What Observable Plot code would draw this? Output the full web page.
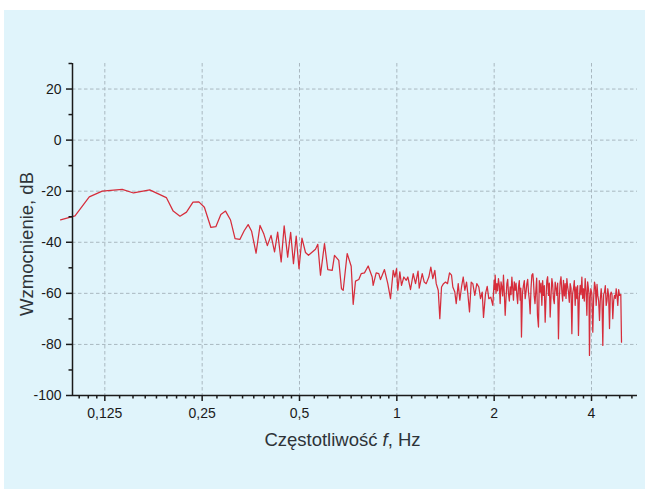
<!DOCTYPE html>
<html>
<head>
<meta charset="utf-8">
<script src="https://cdn.jsdelivr.net/npm/d3@7"></script>
<script src="https://cdn.jsdelivr.net/npm/@observablehq/plot@0.6"></script>
<style>
  html, body { margin: 0; padding: 0; background: #ffffff; }
  #chart { position: absolute; left: 4px; top: 10px; width: 641px; height: 479px; background: #e0f4fb; }
  #chart svg { display: block; background: transparent; }
</style>
</head>
<body>
<div id="chart"></div>
<script>
// ---- data ----
const freq = [0.0912,0.1011,0.1119,0.1227,0.1415,0.1533,0.1721,0.1937,0.2034,0.2135,0.2236,0.2342,0.2442,0.2540,0.2660,0.2756,0.2856,0.2953,0.3060,0.3160,0.3270,0.3372,0.3469,0.3556,0.3670,0.3775,0.3879,0.3977,0.4083,0.4186,0.4280,0.4388,0.4483,0.4596,0.4695,0.4790,0.4884,0.4982,0.5089,0.5218,0.5331,0.5466,0.5603,0.5696,0.5806,0.5974,0.6116,0.6311,0.6415,0.6614,0.6743,0.6825,0.7022,0.7225,0.7328,0.7450,0.7627,0.7758,0.7942,0.8154,0.8390,0.8449,0.8632,0.8794,0.8901,0.9157,0.9377,0.9559,0.9747,0.9859,0.9979,1.0071,1.0216,1.0340,1.0511,1.0692,1.0815,1.1024,1.1238,1.1424,1.1630,1.1729,1.1982,1.2154,1.2328,1.2558,1.2738,1.2921,1.3106,1.3238,1.3428,1.3582,1.3747,1.3944,1.4145,1.4347,1.4553,1.4762,1.4899,1.5113,1.5264,1.5483,1.5661,1.5852,1.6045,1.6229,1.6427,1.6579,1.6779,1.6984,1.7178,1.7424,1.7674,1.7927,1.8146,1.8366,1.8537,1.8803,1.9032,1.9250,1.9527,1.9807,2.0000,2.0143,2.0388,2.0620,2.0872,2.1126,2.1368,2.1630,2.1894,2.2144,2.2414,2.2687,2.2947,2.3226,2.3509,2.3778,2.4068,2.4291,2.4640,2.4939,2.5244,2.5532,2.5843,2.6158,2.6345,2.6591,2.6914,2.7223,2.7418,2.7751,2.8089,2.8410,2.8757,2.9106,2.9440,2.9798,3.0162,3.0507,3.0879,3.1256,3.1613,3.1999,3.2388,3.2760,3.3158,3.3562,3.3946,3.4361,3.4780,3.5178,3.5605,3.6040,3.6452,3.6897,3.7347,3.7774,3.8235,3.8700,3.9145,3.9423,3.9814,4.0370,4.0862,4.1360,4.1833,4.2344,4.2858,4.3350,4.3877,4.4412,4.4920,4.5468,4.6022,4.6548,4.7116,4.7689,4.8236,4.8822,4.9277,4.9524];
const gain = [-31.2,-29.7,-22.2,-20.0,-19.3,-20.7,-19.5,-22.5,-27.8,-29.8,-28.2,-24.3,-24.2,-26.3,-34.2,-33.9,-29.1,-27.8,-31.3,-38.6,-38.9,-35.5,-33.1,-35.7,-44.3,-33.4,-36.8,-41.3,-37.3,-43.8,-36.0,-47.7,-33.6,-45.8,-36.1,-48.4,-37.6,-50.3,-38.4,-44.0,-45.1,-43.9,-42.7,-40.8,-52.9,-40.5,-50.7,-51.0,-45.1,-47.1,-58.2,-58.8,-44.4,-49.4,-64.3,-55.2,-54.6,-52.3,-52.0,-49.3,-53.6,-56.9,-52.0,-52.3,-54.6,-50.7,-56.2,-62.1,-51.0,-53.6,-50.3,-58.8,-51.6,-56.9,-53.6,-54.9,-53.6,-58.5,-52.3,-56.2,-51.3,-58.0,-52.3,-55.6,-56.2,-53.6,-49.7,-54.2,-51.0,-56.2,-58.8,-69.9,-57.5,-56.2,-55.6,-56.2,-52.0,-52.9,-57.5,-59.5,-64.0,-56.2,-62.7,-57.5,-53.6,-58.8,-55.6,-60.1,-67.3,-55.6,-56.2,-60.8,-56.2,-57.5,-62.1,-59.5,-69.4,-60.1,-57.3,-62.1,-61.5,-64.7,-54.9,-52.9,-56.2,-54.2,-64.0,-57.5,-52.9,-68.6,-56.2,-60.1,-57.5,-53.6,-62.7,-58.8,-60.8,-57.5,-62.7,-77.1,-56.9,-62.1,-56.2,-59.5,-68.0,-52.9,-52.3,-60.8,-58.8,-68.6,-73.2,-59.5,-64.7,-60.8,-71.3,-54.9,-60.8,-69.3,-54.2,-62.1,-55.6,-60.8,-77.8,-55.6,-59.5,-54.9,-56.2,-54.2,-59.5,-56.2,-75.8,-58.2,-64.7,-62.1,-76.5,-56.9,-53.6,-58.2,-54.2,-68.6,-58.2,-84.3,-58.2,-75.2,-55.6,-64.7,-60.8,-70.6,-58.2,-80.4,-59.5,-64.7,-58.2,-73.8,-59.5,-69.9,-60.8,-58.2,-64.7,-60.8,-60.4,-79.1];
// extra samples read in the dense band above 2 Hz
const freqDense = [2.007,2.026,2.050,2.075,2.100,2.125,2.150,2.176,2.202,2.228,2.255,2.282,2.308,2.337,2.364,2.392,2.418,2.446,2.479,2.509,2.539,2.569,2.600,2.647,2.675,2.707,2.758,2.792,2.825,2.858,2.893,2.927,2.962,2.998,3.033,3.069,3.107,3.143,3.180,3.219,3.257,3.296,3.336,3.375,3.415,3.457,3.498,3.539,3.582,3.624,3.667,3.712,3.756,3.800,3.847,3.892,3.928,3.962,4.009,4.061,4.111,4.160,4.209,4.260,4.310,4.361,4.414,4.466,4.519,4.574,4.628,4.683,4.740,4.796,4.853];
const gainDense = [-58.5,-60.0,-59.0,-57.0,-55.5,-61.0,-60.0,-62.0,-54.5,-63.0,-60.5,-58.0,-55.5,-56.0,-64.0,-55.0,-58.0,-60.0,-55.0,-59.5,-54.5,-62.5,-58.0,-55.5,-64.0,-54.0,-55.0,-56.0,-55.0,-57.0,-62.0,-53.5,-56.0,-61.0,-56.5,-64.0,-58.0,-56.0,-62.0,-53.5,-63.0,-61.0,-62.0,-57.5,-63.5,-58.0,-60.0,-55.0,-57.5,-57.0,-62.0,-60.5,-62.0,-63.0,-59.0,-55.5,-60.0,-62.0,-60.0,-62.0,-57.5,-56.5,-63.0,-62.0,-63.0,-60.5,-57.0,-63.0,-61.0,-60.5,-60.5,-63.0,-62.0,-61.0,-58.5];

const xTicks = [0.125, 0.25, 0.5, 1, 2, 4];
const xTickLabels = ["0,125", "0,25", "0,5", "1", "2", "4"];
const yTicks = [-100, -80, -60, -40, -20, 0, 20];
const yTickLabels = ["-100", "-80", "-60", "-40", "-20", "0", "20"];
const yMinorTicks = [-90, -70, -50, -30, -10, 10, 30];
const xDomain = [0.0993, 5.55];
const yDomain = [-100, 30];
const xTitle = "Częstotliwość f, Hz";
const yTitle = "Wzmocnienie, dB";

// ---- build ----
const data = [];
for (let i = 0; i < Math.min(freq.length, gain.length); i++) data.push({f: freq[i], g: gain[i]});
for (let i = 0; i < Math.min(freqDense.length, gainDense.length); i++) data.push({f: freqDense[i], g: gainDense[i]});
data.sort((a, b) => a.f - b.f);

// minor x ticks: 8 linear subdivisions per octave
const octaveStarts = [0.0625, 0.125, 0.25, 0.5, 1, 2, 4];
const xMinorTicks = [];
for (const m of octaveStarts) for (let k = 1; k <= 8; k++) {
  const v = m + k * m / 9;
  if (v >= xDomain[0] && v <= xDomain[1]) xMinorTicks.push(v);
}
const xLab = new Map(xTicks.map((t, i) => [t, xTickLabels[i]]));
const yLab = new Map(yTicks.map((t, i) => [t, yTickLabels[i]]));

const gridStyle = {stroke: "#a9b8c0", strokeOpacity: 1, strokeWidth: 1, strokeDasharray: "3.5,2.5"};
const axisColor = "#1a1a1a";

const chart = Plot.plot({
  width: 641,
  height: 479,
  marginLeft: 68,
  marginRight: 8,
  marginTop: 53,
  marginBottom: 94,
  style: {fontFamily: "'Liberation Sans', Arial, sans-serif", background: "transparent", color: axisColor, overflow: "visible"},
  x: {type: "log", domain: xDomain},
  y: {domain: yDomain},
  marks: [
    Plot.ruleX(xTicks, gridStyle),
    Plot.ruleY(yTicks.filter(t => t > yDomain[0]), gridStyle),
    Plot.line(data, {x: "f", y: "g", stroke: "#d62d3b", strokeWidth: 1.25, strokeLinejoin: "round"}),
    Plot.ruleY([yDomain[0]], {stroke: axisColor, strokeWidth: 1.5}),
    Plot.ruleX([xDomain[0]], {stroke: axisColor, strokeWidth: 1.5}),
    Plot.axisX(xTicks, {tickSize: 6, tickPadding: 7, tickFormat: d => xLab.get(d), fontSize: 14, stroke: axisColor, strokeWidth: 1.5, fill: axisColor, label: null}),
    Plot.axisX(xMinorTicks, {tickSize: 3.5, tickFormat: () => "", stroke: axisColor, strokeWidth: 1.5, label: null}),
    Plot.axisY(yTicks, {tickSize: 6, tickPadding: 5, tickFormat: d => yLab.get(d), fontSize: 14, stroke: axisColor, strokeWidth: 1.5, fill: axisColor, label: null}),
    Plot.axisY(yMinorTicks, {tickSize: 3.5, tickFormat: () => "", stroke: axisColor, strokeWidth: 1.5, label: null}),
    Plot.text([xTitle], {frameAnchor: "bottom", dy: 45, dx: -12.5, lineAnchor: "middle", textAnchor: "middle", fontSize: 18.5, fill: "#2e3338", className: "xtitle"}),
    Plot.text([yTitle], {frameAnchor: "left", rotate: -90, dx: -45, dy: 14.5, lineAnchor: "middle", textAnchor: "middle", fontSize: 18.5, fill: "#2e3338"})
  ]
});
document.getElementById("chart").appendChild(chart);

// italic "f" in the x title
const xt = chart.querySelector(".xtitle text");
if (xt) {
  const parts = xTitle.split(" f,");
  xt.textContent = "";
  const ns = "http://www.w3.org/2000/svg";
  const a = document.createElementNS(ns, "tspan"); a.textContent = parts[0] + " ";
  const b = document.createElementNS(ns, "tspan"); b.textContent = "f"; b.setAttribute("font-style", "italic");
  const c = document.createElementNS(ns, "tspan"); c.textContent = "," + parts[1];
  xt.append(a, b, c);
}
</script>
</body>
</html>
